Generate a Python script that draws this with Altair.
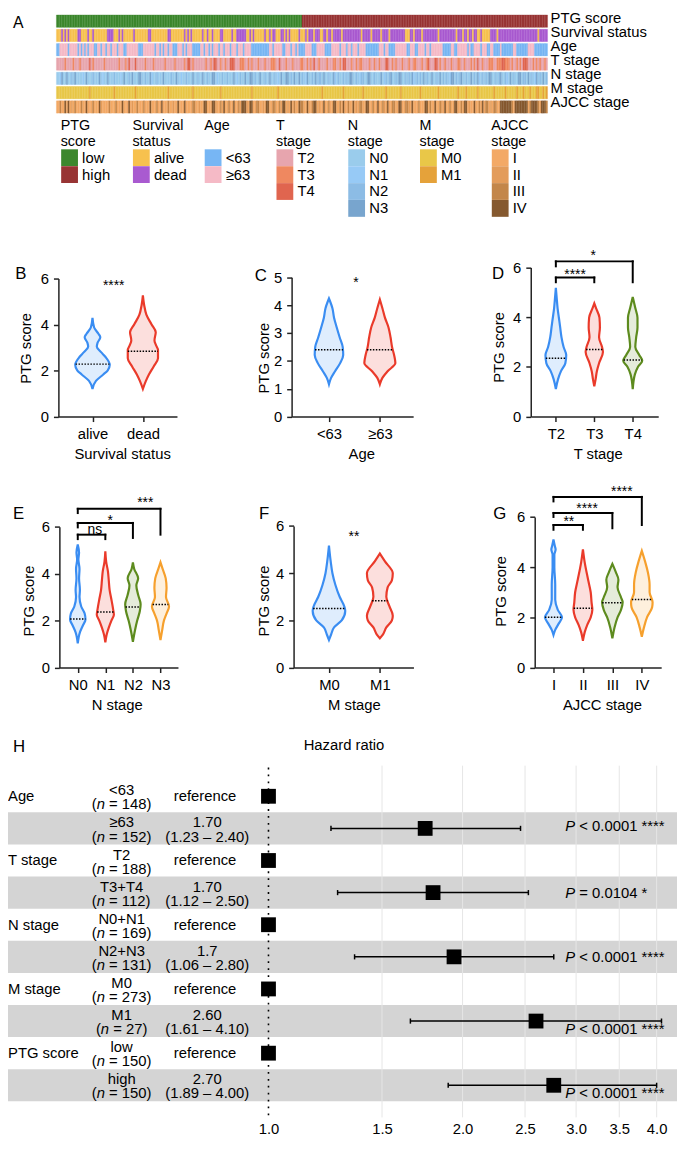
import altair as alt
import numpy as np
import pandas as pd

FONT = "Liberation Sans"
W, H = 677, 1135
S = H / 1154.5


def X(r):
    return r - 8.0


def Y(r):
    return S * (r - 3.0)


# ======================= DATA =======================
# ---- Panel A: annotation heatmap (300 samples sorted by PTG score) ----
N_SAMPLES = 300
N_LOW = 150
TRACKS = ["PTG score", "Survival status", "Age", "T stage", "N stage", "M stage", "AJCC stage"]

SURV_DEAD_IN_LOW = [3, 5, 7, 13, 14, 19, 22, 31, 32, 33, 34, 38, 40, 47, 56, 57, 68, 69, 78, 80, 82, 89, 92, 95,
                    100, 101, 107, 110, 111, 112, 113, 114, 115, 118, 120, 127, 130, 132, 133, 137, 138, 140, 142, 148]
SURV_ALIVE_IN_HIGH = [150, 151, 153, 157, 161, 162, 165, 168, 174, 186, 192, 198, 203, 213, 214, 215, 218, 223,
                      233, 244, 248, 251, 254, 257, 258, 260, 261, 262, 263, 264, 269, 294]
AGE_UNDER63 = [0, 1, 7, 13, 15, 17, 19, 23, 24, 27, 30, 33, 37, 41, 42, 50, 51, 52, 60, 63, 65, 68, 71, 72, 73, 77,
               79, 83, 84, 85, 86, 87, 90, 93, 95, 99, 102, 106, 110, 114, 119, 120, 121, 122, 123, 124, 125, 126,
               127, 128, 129, 132, 138, 139, 143, 146, 148, 149, 150, 151, 156, 157, 158, 164, 165, 166, 167, 173,
               177, 180, 184, 189, 190, 191, 192, 193, 194, 195, 196, 200, 203, 204, 205, 206, 214, 215, 219, 220,
               225, 228, 236, 237, 238, 239, 240, 243, 244, 251, 253, 254, 259, 263, 264, 267, 268, 269, 270, 272,
               273, 274, 275, 276, 277, 278, 281, 282, 283, 284, 285, 286, 287, 292, 293, 294, 295, 296, 297, 298, 299]
T3_IDX = [5, 10, 14, 22, 29, 38, 42, 54, 59, 66, 72, 78, 83, 91, 94, 100, 103, 112, 113, 114, 117, 119, 123, 127,
          131, 132, 133, 140, 144, 149, 150, 153, 155, 160, 165, 169, 170, 173, 180, 183, 185, 186, 191, 194, 197,
          205, 207, 211, 215, 218, 219, 223, 226, 234, 237, 241, 245, 246, 249, 253, 255, 260, 264, 265, 266, 269,
          270, 271, 274, 275, 276, 278, 281, 283, 291, 293, 295, 298]
T4_IDX = [20, 44, 48, 80, 81, 96, 97, 106, 107, 108, 136, 157, 175, 176, 201, 202, 227, 231, 232, 257, 272, 273,
          285, 286, 287]
N1_IDX = [2, 16, 28, 39, 58, 76, 98, 110, 135, 152, 170, 185, 200, 218, 240, 258, 275, 292]
N2_IDX = [9, 22, 35, 44, 54, 61, 70, 79, 86, 92, 101, 104, 112, 121, 127, 133, 143, 150, 156, 160, 161, 166, 172,
          175, 177, 183, 186, 187, 194, 201, 203, 207, 213, 215, 220, 222, 226, 232, 236, 238, 244, 246, 250, 255,
          260, 262, 268, 270, 274, 279, 285, 286, 290, 295, 299]
N3_IDX = [3, 6, 11, 18, 26, 31, 41, 46, 50, 51, 57, 65, 73, 83, 89, 95, 96, 108, 115, 118, 119, 124, 130, 137, 140,
          141, 145, 148, 153, 158, 163, 169, 179, 180, 190, 191, 198, 204, 209, 210, 217, 224, 229, 234, 241, 242,
          247, 253, 257, 264, 265, 271, 277, 282, 283, 288, 293, 297]
M1_IDX = [20, 35, 48, 68, 83, 100, 119, 135, 162, 175, 187, 201, 210, 222, 233, 245, 250, 257, 267, 274, 281, 285,
          289, 293, 294, 297, 299]
AJCC2_IDX = [9, 27, 46, 71, 87, 97, 116, 126, 141, 160, 183, 200, 215, 235, 252, 265]
AJCC3_IDX = [2, 11, 15, 22, 32, 36, 49, 53, 61, 68, 83, 84, 100, 105, 111, 122, 123, 132, 133, 136, 145, 149, 150,
             156, 166, 173, 178, 185, 186, 193, 199, 205, 206, 213, 214, 221, 228, 234, 240, 247, 258, 262, 263,
             267, 268, 278, 289, 294, 299]
AJCC4_IDX = [5, 7, 18, 26, 40, 44, 57, 64, 74, 78, 90, 91, 95, 96, 102, 108, 113, 114, 115, 118, 119, 128, 129, 138,
             139, 143, 148, 153, 157, 158, 163, 169, 170, 175, 181, 189, 190, 196, 202, 209, 210, 217, 225, 226,
             231, 237, 243, 244, 249, 250, 255, 260, 271, 272, 273, 274, 275, 276, 277, 280, 281, 282, 283, 284,
             285, 286, 287, 290, 291, 292, 293, 296, 297, 298]

HEAT_COLORS = {
    "PTG score": {"low": "#3C872D", "high": "#983434"},
    "Survival status": {"alive": "#F7C14E", "dead": "#A95AD0"},
    "Age": {"<63": "#77B6F4", "≥63": "#F5BAC6"},
    "T stage": {"T2": "#E7A5AE", "T3": "#EF8860", "T4": "#E0654F"},
    "N stage": {"N0": "#9ACCEC", "N1": "#97CAF6", "N2": "#8CBCE5", "N3": "#78A5CE"},
    "M stage": {"M0": "#E9C748", "M1": "#E5A23A"},
    "AJCC stage": {"I": "#F3A966", "II": "#E39C5B", "III": "#C3864A", "IV": "#85592F"},
}
LEGEND_TITLES = [["PTG", "score"], ["Survival", "status"], ["Age"], ["T", "stage"],
                 ["N", "stage"], ["M", "stage"], ["AJCC", "stage"]]

# ---- Panels B-G: violin outlines (PTG score, half-width in category units) and medians ----
VIOLIN_GROUPS = {
    "B": ["alive", "dead"],
    "C": ["<63", "≥63"],
    "D": ["T2", "T3", "T4"],
    "E": ["N0", "N1", "N2", "N3"],
    "F": ["M0", "M1"],
    "G": ["I", "II", "III", "IV"],
}
VIOLIN_TITLES = {"B": "Survival status", "C": "Age", "D": "T stage", "E": "N stage", "F": "M stage",
                 "G": "AJCC stage"}
VIOLINS = {
    "B": [
        [(1.2, 0), (1.55, 0.069), (1.83, 0.214), (2.0, 0.30), (2.25, 0.343), (2.6, 0.255), (2.8, 0.17),
         (3.03, 0.086), (3.2, 0.10), (3.45, 0.155), (3.6, 0.118), (3.87, 0.033), (4.29, 0)],
        [(1.2, 0), (1.55, 0.06), (1.83, 0.12), (2.18, 0.214), (2.53, 0.30), (2.89, 0.30), (3.1, 0.26),
         (3.31, 0.23), (3.66, 0.255), (4.01, 0.17), (4.43, 0.069), (4.85, 0.025), (5.27, 0)],
    ],
    "C": [
        [(1.16, 0), (1.39, 0.042), (1.63, 0.12), (1.92, 0.22), (2.21, 0.28), (2.5, 0.27), (2.85, 0.21),
         (3.2, 0.153), (3.55, 0.10), (3.89, 0.068), (4.24, 0)],
        [(1.16, 0), (1.39, 0.05), (1.63, 0.153), (1.92, 0.305), (2.21, 0.28), (2.5, 0.24), (2.85, 0.21),
         (3.2, 0.17), (3.55, 0.10), (3.89, 0.05), (4.2, 0)],
    ],
    "D": [
        [(1.11, 0), (1.5, 0.056), (1.83, 0.134), (2.15, 0.247), (2.48, 0.27), (2.8, 0.202), (3.2, 0.146),
         (3.59, 0.113), (3.98, 0.079), (4.37, 0.045), (4.76, 0.023), (5.18, 0)],
        [(1.22, 0), (1.5, 0.034), (1.83, 0.067), (2.15, 0.124), (2.6, 0.225), (2.8, 0.202), (3.2, 0.124),
         (3.59, 0.146), (3.98, 0.135), (4.37, 0.045), (4.56, 0)],
        [(1.1, 0), (1.7, 0.056), (2.0, 0.135), (2.25, 0.247), (2.48, 0.169), (2.8, 0.067), (3.2, 0.09),
         (3.59, 0.124), (3.98, 0.124), (4.37, 0.067), (4.82, 0)],
    ],
    "E": [
        [(1.03, 0), (1.5, 0.078), (1.8, 0.19), (2.05, 0.28), (2.3, 0.25), (2.6, 0.125), (3.0, 0.063),
         (3.3, 0.078), (3.8, 0.047), (4.2, 0.063), (4.6, 0.023), (4.9, 0.047), (5.24, 0)],
        [(1.07, 0), (1.4, 0.047), (1.7, 0.125), (2.0, 0.22), (2.25, 0.31), (2.5, 0.28), (2.9, 0.22),
         (3.3, 0.156), (3.7, 0.125), (4.1, 0.094), (4.5, 0.031), (4.95, 0)],
        [(1.1, 0), (1.6, 0.078), (2.0, 0.156), (2.4, 0.25), (2.7, 0.28), (3.1, 0.19), (3.5, 0.125),
         (3.8, 0.19), (4.2, 0.047), (4.48, 0)],
        [(1.17, 0), (1.6, 0.063), (2.0, 0.125), (2.3, 0.22), (2.6, 0.31), (3.0, 0.2), (3.4, 0.22),
         (3.8, 0.19), (4.2, 0.078), (4.48, 0)],
    ],
    "F": [
        [(1.17, 0), (1.4, 0.042), (1.7, 0.10), (2.0, 0.25), (2.4, 0.32), (2.6, 0.30), (3.0, 0.21),
         (3.5, 0.127), (4.0, 0.068), (4.5, 0.034), (5.17, 0)],
        [(1.24, 0), (1.4, 0.059), (1.7, 0.127), (2.0, 0.237), (2.2, 0.254), (2.6, 0.187), (3.0, 0.127),
         (3.4, 0.153), (3.7, 0.237), (4.0, 0.254), (4.5, 0.10), (4.83, 0)],
    ],
    "G": [
        [(1.3, 0), (1.5, 0.059), (1.75, 0.176), (2.0, 0.29), (2.3, 0.147), (2.7, 0.059), (3.3, 0.059),
         (4.0, 0.03), (4.5, 0.03), (4.7, 0.073), (4.85, 0.044), (5.1, 0)],
        [(1.07, 0), (1.4, 0.059), (1.7, 0.147), (2.0, 0.264), (2.3, 0.32), (2.6, 0.293), (3.0, 0.264),
         (3.5, 0.176), (4.2, 0.059), (4.71, 0)],
        [(1.16, 0), (1.6, 0.073), (2.0, 0.176), (2.3, 0.293), (2.6, 0.35), (2.8, 0.293), (3.2, 0.176),
         (3.5, 0.205), (3.8, 0.117), (4.13, 0)],
        [(1.23, 0), (1.6, 0.073), (2.0, 0.176), (2.4, 0.35), (2.6, 0.366), (3.0, 0.264), (3.3, 0.264),
         (3.8, 0.205), (4.2, 0.117), (4.65, 0)],
    ],
}
MEDIANS = {"B": [2.28, 2.84], "C": [2.40, 2.40], "D": [2.35, 2.70, 2.28], "E": [2.07, 2.37, 2.58, 2.69],
           "F": [2.50, 2.83], "G": [2.00, 2.36, 2.58, 2.71]}
Y_TICKS = {"B": [0, 2, 4, 6], "C": [0, 1, 2, 3, 4, 5], "D": [0, 2, 4, 6], "E": [0, 2, 4, 6],
           "F": [0, 2, 4, 6], "G": [0, 2, 4, 6]}
Y_MAX = {"B": 6, "C": 5, "D": 6, "E": 6, "F": 6, "G": 6}
# significance: (group a, group b, bracket top, leg a bottom, leg b bottom) ; stars: (label, x, y)
BRACKETS = {
    "D": [(1, 2, 5.6, 5.41, 5.41), (1, 3, 6.25, 6.05, 5.41)],
    "E": [(1, 2, 5.66, 5.47, 5.47), (1, 3, 6.16, 5.97, 5.52), (1, 4, 6.76, 6.58, 5.66)],
    "G": [(1, 2, 5.68, 5.49, 5.49), (1, 3, 6.16, 6.0, 5.55), (1, 4, 6.8, 6.62, 5.68)],
}
STARS = {
    "B": [("****", 1.42, 5.5)],
    "C": [("*", 1.53, 4.66)],
    "D": [("****", 1.5, 5.55), ("*", 1.97, 6.3)],
    "E": [("ns", 1.62, 5.70), ("*", 2.18, 6.08), ("***", 3.45, 6.84)],
    "F": [("**", 1.49, 5.37)],
    "G": [("**", 1.52, 5.63), ("****", 2.14, 6.14), ("****", 3.32, 6.83)],
}
VCOL = ["#3A8DF2", "#EA3A2A", "#5D8B1E", "#F6A02D"]

# ---- Panel H: forest plot ----
FOREST_GROUPS = ["Age", "T stage", "N stage", "M stage", "PTG score"]
FOREST_LEVELS = ["<63", "≥63", "T2", "T3+T4", "N0+N1", "N2+N3", "M0", "M1", "low", "high"]
FOREST_N = ["148", "152", "188", "112", "169", "131", "273", "27", "150", "150"]
HR_LABEL = ["1.70", "1.70", "1.7", "2.60", "2.70"]
CI_LABEL = ["(1.23 – 2.40)", "(1.12 – 2.50)", "(1.06 – 2.80)", "(1.61 – 4.10)", "(1.89 – 4.00)"]
HR_POINT = [1.75, 1.80, 1.94, 2.60, 2.77]
HR_LOW = [1.25, 1.28, 1.36, 1.66, 1.90]
HR_HIGH = [2.46, 2.53, 2.77, 4.07, 4.00]
P_TEXT = ["< 0.0001 ****", "= 0.0104 *", "< 0.0001 ****", "< 0.0001 ****", "< 0.0001 ****"]
P_SHIFT = [-0.08, 0.0, 0.0, 0.25, 0.25]
GRID_HR = [1.5, 2.0, 2.5, 3.0, 3.5, 4.0]
AXIS_HR = [1.0, 1.5, 2.0, 2.5, 3.0, 3.5, 4.0]

# ======================= LAYOUT (reference pixels) =======================
PANELS = {
    "B": dict(yaxis=59, xend=179, c1=93.5, step=51, y0=416.7, ytop=274.5, tcx=123.5, ytx=26, yty=346),
    "C": dict(yaxis=295, xend=418, c1=332.8, step=51.5, y0=416.7, ytop=273.3, tcx=365.5, ytx=266.5, yty=356),
    "D": dict(yaxis=537, xend=666, c1=562.4, step=38.9, y0=416.7, ytop=263.3, tcx=604.8, ytx=504.5, yty=345),
    "E": dict(yaxis=60, xend=180, c1=78.6, step=27.9, y0=675, ytop=530, tcx=118, ytx=28.4, yty=606),
    "F": dict(yaxis=297, xend=418.3, c1=332.8, step=51.5, y0=675, ytop=529.3, tcx=358, ytx=266.5, yty=606),
    "G": dict(yaxis=541, xend=669, c1=560, step=29.8, y0=675, ytop=520, tcx=609, ytx=506.5, yty=596),
}
LETTERS = [("A", 13, 16.5), ("B", 15.3, 275), ("C", 257.6, 277), ("D", 497.8, 275), ("E", 13, 521.7),
           ("F", 262, 521.7), ("G", 499, 521.7), ("H", 13, 761.7)]

layers = []


def txt(**kw):
    base = dict(font=FONT, fontSize=15, color="black")
    base.update(kw)
    return base


# ---------------- Panel A ----------------
ptg = ["low" if i < N_LOW else "high" for i in range(N_SAMPLES)]
surv = ["alive" if i < N_LOW else "dead" for i in range(N_SAMPLES)]
for i in SURV_DEAD_IN_LOW:
    surv[i] = "dead"
for i in SURV_ALIVE_IN_HIGH:
    surv[i] = "alive"
age = ["≥63"] * N_SAMPLES
for i in AGE_UNDER63:
    age[i] = "<63"
tst = ["T2"] * N_SAMPLES
for lst, lab in ((T3_IDX, "T3"), (T4_IDX, "T4")):
    for i in lst:
        tst[i] = lab
nst = ["N0"] * N_SAMPLES
for lst, lab in ((N1_IDX, "N1"), (N2_IDX, "N2"), (N3_IDX, "N3")):
    for i in lst:
        nst[i] = lab
mst = ["M0"] * N_SAMPLES
for i in M1_IDX:
    mst[i] = "M1"
ajc = ["I"] * N_SAMPLES
for lst, lab in ((AJCC2_IDX, "II"), (AJCC3_IDX, "III"), (AJCC4_IDX, "IV")):
    for i in lst:
        ajc[i] = lab
track_vals = dict(zip(TRACKS, [ptg, surv, age, tst, nst, mst, ajc]))

hm_rows = []
for t in TRACKS:
    for i, v in enumerate(track_vals[t]):
        hm_rows.append({"i": i, "i2": i + 1, "track": t, "col": HEAT_COLORS[t][v]})
hm = pd.DataFrame(hm_rows)

hx = alt.Scale(domain=[0, N_SAMPLES], range=[X(57), X(554)], nice=False, zero=False)
hy = alt.Scale(domain=TRACKS, range=[Y(3.3), Y(104.3)], paddingInner=0.14, paddingOuter=0)

layers.append(alt.Chart(hm).mark_rect(strokeWidth=0.35).encode(
    x=alt.X("i:Q", scale=hx, axis=None),
    x2="i2:Q",
    y=alt.Y("track:N", scale=hy, axis=None),
    fill=alt.Fill("col:N", scale=None),
    stroke=alt.Stroke("col:N", scale=None),
))
layers.append(alt.Chart(pd.DataFrame({"track": TRACKS})).mark_text(
    **txt(align="left", baseline="middle", dy=-4)).encode(
    x=alt.value(X(557)),
    y=alt.Y("track:N", scale=hy, axis=None, bandPosition=0.5),
    text="track:N",
))

# legend
leg_rows = []
for g, t in enumerate(TRACKS):
    for k, (lab, col) in enumerate(HEAT_COLORS[t].items()):
        leg_rows.append({"g": g, "k": k, "lab": lab, "col": col})
leg = pd.DataFrame(leg_rows)
lgx = alt.Scale(domain=[0, 6], range=[X(70.3), X(70.3 + 6 * 72.63)], nice=False, zero=False)
lgy = alt.Scale(domain=[0, 3], range=[Y(150.2), Y(150.2 + 3 * 17.4)], nice=False, zero=False)
layers.append(alt.Chart(leg).mark_square(size=17 * 17, opacity=1).encode(
    x=alt.X("g:Q", scale=lgx, axis=None),
    y=alt.Y("k:Q", scale=lgy, axis=None),
    color=alt.Color("col:N", scale=None),
))
layers.append(alt.Chart(leg).mark_text(**txt(align="left", baseline="middle", dx=12.7)).encode(
    x=alt.X("g:Q", scale=lgx, axis=None),
    y=alt.Y("k:Q", scale=lgy, axis=None),
    text="lab:N",
))
lt = pd.DataFrame({"g": list(range(7)), "lines": LEGEND_TITLES})
layers.append(alt.Chart(lt).mark_text(**txt(fontSize=14.5, align="left", baseline="alphabetic", dx=-9,
                                            lineHeight=16.5)).encode(
    x=alt.X("g:Q", scale=lgx, axis=None),
    y=alt.value(Y(121.3)),
    text="lines:N",
))

# ---------------- Panels B-G ----------------
for key, p in PANELS.items():
    groups = VIOLIN_GROUPS[key]
    n = len(groups)
    d0 = 1 - (p["c1"] - p["yaxis"]) / p["step"]
    d1 = 1 + (p["xend"] - p["c1"]) / p["step"]
    xs = alt.Scale(domain=[d0, d1], range=[X(p["yaxis"]), X(p["xend"])], nice=False, zero=False)
    ys = alt.Scale(domain=[0, Y_MAX[key]], range=[Y(p["y0"]), Y(p["ytop"])], nice=False, zero=False)

    rows, med_rows = [], []
    for gi, prof in enumerate(VIOLINS[key]):
        c = gi + 1
        prof = sorted(prof)
        for yv, hw in prof:
            rows.append({"g": gi, "y": yv, "xl": c - hw, "xr": c + hw, "col": VCOL[gi]})
        m = MEDIANS[key][gi]
        hwm = float(np.interp(m, [q[0] for q in prof], [q[1] for q in prof]))
        med_rows.append({"y": m, "xl": c - hwm, "xr": c + hwm})
    vdf = pd.DataFrame(rows)

    label_expr = "[" + ",".join("'" + g + "'" for g in groups) + "][datum.value - 1]"
    xaxis = alt.Axis(orient="bottom", offset=Y(p["y0"]) - H, values=list(range(1, n + 1)),
                     labelExpr=label_expr, title=VIOLIN_TITLES[key], titleX=X(p["tcx"]),
                     titleY=S * 38.3, titleBaseline="middle", titleAlign="center", labelPadding=5)
    yaxis = alt.Axis(orient="left", offset=-X(p["yaxis"]), values=Y_TICKS[key], title="PTG score",
                     titleX=p["ytx"] - p["yaxis"], titleY=Y(p["yty"]), titleBaseline="middle",
                     titleAlign="center", titleAngle=270, labelPadding=5)

    layers.append(alt.Chart(vdf).mark_area(orient="horizontal", interpolate="monotone", fillOpacity=0.16,
                                           strokeWidth=2.2).encode(
        y=alt.Y("y:Q", scale=ys, axis=yaxis),
        x=alt.X("xl:Q", scale=xs, axis=xaxis, stack=None),
        x2="xr:Q",
        fill=alt.Fill("col:N", scale=None),
        stroke=alt.Stroke("col:N", scale=None),
        detail="g:N",
    ))
    layers.append(alt.Chart(pd.DataFrame(med_rows)).mark_rule(color="black", strokeWidth=1.5,
                                                               strokeDash=[1.5, 1.5]).encode(
        x=alt.X("xl:Q", scale=xs, axis=None),
        x2="xr:Q",
        y=alt.Y("y:Q", scale=ys, axis=None),
    ))
    if key in BRACKETS:
        seg = []
        for a, b, top, ya, yb in BRACKETS[key]:
            seg.append({"x": a, "x2": b, "y": top, "y2": top})
            seg.append({"x": a, "x2": a, "y": ya, "y2": top})
            seg.append({"x": b, "x2": b, "y": yb, "y2": top})
        layers.append(alt.Chart(pd.DataFrame(seg)).mark_rule(color="black", strokeWidth=2,
                                                             strokeCap="square").encode(
            x=alt.X("x:Q", scale=xs, axis=None), x2="x2:Q",
            y=alt.Y("y:Q", scale=ys, axis=None), y2="y2:Q",
        ))
    sdf = pd.DataFrame([{"t": t, "x": x, "y": y} for t, x, y in STARS[key]])
    layers.append(alt.Chart(sdf).mark_text(**txt(fontSize=14, align="center", baseline="alphabetic")).encode(
        x=alt.X("x:Q", scale=xs, axis=None),
        y=alt.Y("y:Q", scale=ys, axis=None),
        text="t:N",
    ))

# ---------------- Panel H ----------------
fy = alt.Scale(domain=[0, 9], range=[Y(807.5), Y(1105)], nice=False, zero=False)
fx = alt.Scale(type="log", domain=[1, 4], range=[X(271.6), X(664.4)], nice=False)

band_rows = pd.DataFrame({"lo": [r - 0.5 for r in (1, 3, 5, 7, 9)], "hi": [r + 0.5 for r in (1, 3, 5, 7, 9)]})
layers.append(alt.Chart(band_rows).mark_rect(color="#D4D4D4").encode(
    x=alt.value(0), x2=alt.value(W),
    y=alt.Y("lo:Q", scale=fy, axis=None), y2="hi:Q",
))
layers.append(alt.Chart(pd.DataFrame({"hr": GRID_HR})).mark_rule(color="#E6E6E6", strokeWidth=1).encode(
    x=alt.X("hr:Q", scale=fx, axis=alt.Axis(orient="bottom", offset=Y(1150) - H, values=AXIS_HR, format=".1f",
                                            domain=False, ticks=False, tickSize=0, labelPadding=0,
                                            labelBaseline="middle", title=None)),
    y=alt.value(Y(776)), y2=alt.value(Y(1138)),
))
layers.append(alt.Chart(pd.DataFrame({"hr": [1.0]})).mark_rule(color="black", strokeWidth=1.6,
                                                               strokeDash=[1.8, 5.2]).encode(
    x=alt.X("hr:Q", scale=fx, axis=None),
    y=alt.value(Y(778)), y2=alt.value(Y(1138)),
))
est_rows = [1, 3, 5, 7, 9]
ci = pd.DataFrame({"row": est_rows, "lo": HR_LOW, "hi": HR_HIGH, "hr": HR_POINT})
layers.append(alt.Chart(ci).mark_rule(color="black", strokeWidth=1.5).encode(
    x=alt.X("lo:Q", scale=fx, axis=None), x2="hi:Q",
    y=alt.Y("row:Q", scale=fy, axis=None),
))
caps = pd.DataFrame({"row": est_rows * 2, "v": HR_LOW + HR_HIGH})
layers.append(alt.Chart(caps).transform_calculate(ya="datum.row - 0.08", yb="datum.row + 0.08").mark_rule(
    color="black", strokeWidth=1.5).encode(
    x=alt.X("v:Q", scale=fx, axis=None),
    y=alt.Y("ya:Q", scale=fy, axis=None), y2="yb:Q",
))
sq = pd.DataFrame({"row": list(range(10)),
                   "hr": [1.0 if r % 2 == 0 else HR_POINT[r // 2] for r in range(10)]})
layers.append(alt.Chart(sq).mark_square(size=225, opacity=1, color="black").encode(
    x=alt.X("hr:Q", scale=fx, axis=None),
    y=alt.Y("row:Q", scale=fy, axis=None),
))

AW = {"(": 333, ")": 333, " ": 278, "=": 584, "n": 556, "P": 667, "<": 584}


def tw(s, size=15):
    return sum(AW.get(ch, 556) for ch in s) * size / 1000.0


LEVEL_CX = 123.0
fr = pd.DataFrame({"row": list(range(10)), "level": FOREST_LEVELS, "n": FOREST_N})
fr["rest"] = "= " + fr["n"] + ")"
tot = tw("(") + tw("n") + tw(" ") + fr["rest"].map(tw)
left = LEVEL_CX - tot / 2
fr["x_open"] = X(left)
fr["x_n"] = X(left + tw("("))
fr["x_rest"] = X(left + tw("(") + tw("n") + tw(" "))
fr["open"] = "("

grp = pd.DataFrame({"row": [0, 2, 4, 6, 8], "name": FOREST_GROUPS})
layers.append(alt.Chart(grp).mark_text(**txt(align="left", baseline="middle")).encode(
    x=alt.value(X(8)), y=alt.Y("row:Q", scale=fy, axis=None), text="name:N"))
layers.append(alt.Chart(fr).mark_text(**txt(align="center", baseline="middle", dy=-6 * S)).encode(
    x=alt.value(X(LEVEL_CX)), y=alt.Y("row:Q", scale=fy, axis=None), text="level:N"))
for fld, tfld, style in (("x_open", "open", "normal"), ("x_n", None, "italic"), ("x_rest", "rest", "normal")):
    enc = dict(x=alt.X(f"{fld}:Q", scale=None, axis=None), y=alt.Y("row:Q", scale=fy, axis=None))
    if tfld is None:
        enc["text"] = alt.value("n")
    else:
        enc["text"] = alt.Text(f"{tfld}:N")
    layers.append(alt.Chart(fr).mark_text(**txt(align="left", baseline="middle", dy=8.5 * S,
                                                fontStyle=style)).encode(**enc))

ref = pd.DataFrame({"row": [0, 2, 4, 6, 8], "t": ["reference"] * 5})
layers.append(alt.Chart(ref).mark_text(**txt(align="center", baseline="middle")).encode(
    x=alt.value(X(207.4)), y=alt.Y("row:Q", scale=fy, axis=None), text="t:N"))
est = pd.DataFrame({"row": est_rows, "hr": HR_LABEL, "ci": CI_LABEL, "p": P_TEXT,
                    "prow": [r + s for r, s in zip(est_rows, P_SHIFT)]})
layers.append(alt.Chart(est).mark_text(**txt(align="center", baseline="middle", dy=-6 * S)).encode(
    x=alt.value(X(209.6)), y=alt.Y("row:Q", scale=fy, axis=None), text="hr:N"))
layers.append(alt.Chart(est).mark_text(**txt(align="center", baseline="middle", dy=8.5 * S)).encode(
    x=alt.value(X(209.6)), y=alt.Y("row:Q", scale=fy, axis=None), text="ci:N"))
layers.append(alt.Chart(est).mark_text(**txt(align="left", baseline="middle", fontStyle="italic")).encode(
    x=alt.value(X(572)), y=alt.Y("prow:Q", scale=fy, axis=None), text=alt.value("P")))
layers.append(alt.Chart(est).mark_text(**txt(align="left", baseline="middle")).encode(
    x=alt.value(X(572) + tw("P") + tw(" ")), y=alt.Y("prow:Q", scale=fy, axis=None), text="p:N"))

layers.append(alt.Chart(pd.DataFrame({"t": ["Hazard ratio"]})).mark_text(
    **txt(align="center", baseline="middle")).encode(
    x=alt.value(X(348)), y=alt.value(Y(755)), text="t:N"))

# panel letters
for letter, lx, ly in LETTERS:
    layers.append(alt.Chart(pd.DataFrame({"t": [letter]})).mark_text(
        **txt(fontSize=17 if letter != "A" else 16, align="left", baseline="alphabetic")).encode(
        x=alt.value(X(lx)), y=alt.value(Y(ly)), text="t:N"))

chart = alt.layer(*layers).resolve_scale(x="independent", y="independent").properties(
    width=W, height=H, padding=0, autosize=alt.AutoSizeParams(type="none"), background="white"
).configure_view(stroke=None).configure_axis(
    domainColor="#222222", domainWidth=1.5, tickColor="#222222", tickWidth=1.5, tickSize=5,
    labelFont=FONT, labelFontSize=15, labelColor="black", titleFont=FONT, titleFontSize=15,
    titleFontWeight="normal", titleColor="black", grid=False, labelFlush=False, labelOverlap=False,
)

chart.save("out.html", embed_options={"renderer": "svg", "actions": False})
